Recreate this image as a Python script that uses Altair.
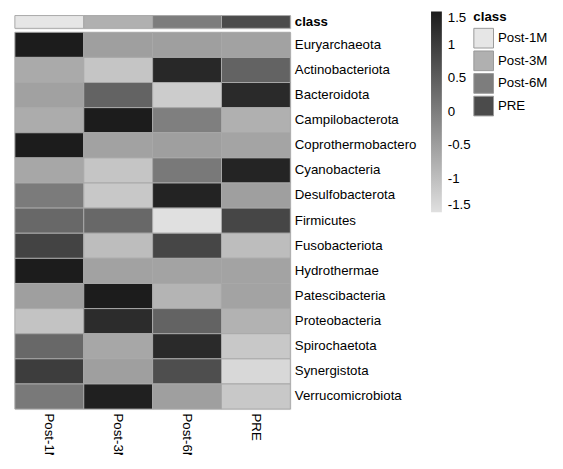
import altair as alt
import pandas as pd

phyla = ["Euryarchaeota", "Actinobacteriota", "Bacteroidota", "Campilobacterota",
         "Coprothermobactero", "Cyanobacteria", "Desulfobacterota", "Firmicutes",
         "Fusobacteriota", "Hydrothermae", "Patescibacteria", "Proteobacteria",
         "Spirochaetota", "Synergistota", "Verrucomicrobiota"]
samples = ["Post-1M", "Post-3M", "Post-6M", "PRE"]

post_1m = [1.5, -0.67, -0.54, -0.70, 1.5, -0.63, 0.05, 0.34, 0.91, 1.5, -0.5, -1.05, 0.33, 1.0, 0.08]
post_3m = [-0.5, -1.08, 0.42, 1.5, -0.55, -1.08, -1.13, 0.33, -0.96, -0.55, 1.5, 1.25, -0.63, -0.51, 1.44]
post_6m = [-0.5, 1.31, -1.19, -0.02, -0.5, 0.08, 1.40, -1.5, 0.86, -0.56, -0.82, 0.42, 1.28, 0.73, -0.5]
pre = [-0.55, 0.42, 1.28, -0.76, -0.58, 1.37, -0.51, 0.86, -0.97, -0.56, -0.56, -0.79, -1.13, -1.38, -1.13]

class_colors = ["#e6e6e6", "#b0b0b0", "#7d7d7d", "#4b4b4b"]
legend_values = [1.5, 1, 0.5, 0, -0.5, -1, -1.5]

cols = [post_1m, post_3m, post_6m, pre]
rows = []
for s, vals in zip(samples, cols):
    for p, v in zip(phyla, vals):
        rows.append({"sample": s, "phylum": p, "value": v})
df = pd.DataFrame(rows)
df_class = pd.DataFrame({"sample": samples, "class": samples, "row": ["class"] * 4})

FONT = "Liberation Sans"
FS = 13.5

class_chart = alt.Chart(df_class).mark_rect(stroke="#a8a8a8", strokeWidth=1).encode(
    x=alt.X("sample:N", sort=samples, axis=None),
    y=alt.Y("row:N", axis=alt.Axis(orient="right", title=None, ticks=False, domain=False,
                                    labelPadding=4, labelFontWeight="bold",
                                    labelFont=FONT, labelFontSize=FS, labelColor="black")),
    color=alt.Color("class:N", scale=alt.Scale(domain=samples, range=class_colors),
                    legend=alt.Legend(orient="none", legendX=466, legendY=-5, title="class",
                                      titleFont=FONT, titleFontSize=FS, titleFontWeight="bold",
                                      titleColor="black", titlePadding=4,
                                      symbolType="square", symbolSize=400,
                                      symbolStrokeColor="#999999", symbolStrokeWidth=1,
                                      symbolOpacity=1, rowPadding=-5, labelOffset=4,
                                      labelFont=FONT, labelFontSize=FS, labelColor="black",
                                      padding=0)),
).properties(width=280, height=13)

heat = alt.Chart(df).mark_rect(stroke="#a8a8a8", strokeWidth=1).encode(
    x=alt.X("sample:N", sort=samples,
            axis=alt.Axis(orient="bottom", title=None, ticks=False, domain=False,
                          labelAngle=90, labelPadding=4, labelFont=FONT,
                          labelFontSize=FS, labelColor="black")),
    y=alt.Y("phylum:N", sort=phyla,
            axis=alt.Axis(orient="right", title=None, ticks=False, domain=False,
                          labelPadding=4, labelFont=FONT, labelFontSize=FS,
                          labelColor="black")),
    color=alt.Color("value:Q",
                    scale=alt.Scale(domain=[-1.5, 1.5], range=["#e0e0e0", "#1c1c1c"],
                                    clamp=True, interpolate="rgb"),
                    legend=alt.Legend(orient="none", legendX=423, legendY=-21, title=None,
                                      direction="vertical", gradientLength=204,
                                      gradientThickness=11, gradientStrokeWidth=0,
                                      values=legend_values,
                                      labelExpr="toString(datum.value)",
                                      labelFont=FONT, labelFontSize=FS,
                                      labelColor="black", labelOffset=6, padding=0)),
).properties(width=280, height=383)

chart = alt.vconcat(class_chart, heat, spacing=4, bounds="flush").resolve_scale(
    color="independent"
).properties(
    padding={"left": 6, "top": -2, "right": 6, "bottom": -12}
).configure_view(stroke=None).configure(background="white")

chart.save("out.html", embed_options={"renderer": "svg", "actions": False})
